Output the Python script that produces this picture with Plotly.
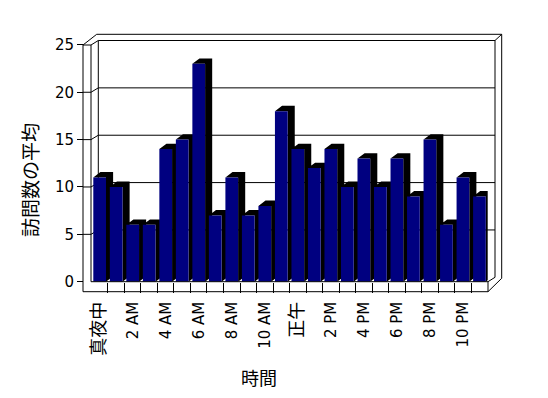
import plotly.graph_objects as go

# ---------------- data ----------------
hours = list(range(24))
visits = [11, 10, 6, 6, 14, 15, 23, 7, 11, 7, 8, 18, 14, 12, 14, 10, 13, 10, 13, 9, 15, 6, 11, 9]
label_positions = [0, 2, 4, 6, 8, 10, 12, 14, 16, 18, 20, 22]
label_texts = ["真夜中", "2 AM", "4 AM", "6 AM", "8 AM", "10 AM", "正午", "2 PM", "4 PM", "6 PM", "8 PM", "10 PM"]
y_ticks = [0, 5, 10, 15, 20, 25]

# ---------------- geometry (pixels, page coordinates) ----------------
W, H = 548, 398
def px(x):
    return x / W
def py(y):
    return 1 - y / H

X0, X1 = 91.4, 487.7          # plot area for categories -0.5 .. 23.5
Y0, Y1 = 281.7, 44.9          # front plane: value 0 .. 25
BW = 0.77                     # bar width (category units)
DX = 0.43                     # depth offset x (category units)
DY = 0.57                     # depth offset y (value units)
NAVY = "#000080"
FONT_LAT = "DejaVu Sans, Noto Sans CJK JP"
FONT_CJK = "Noto Sans CJK JP"

# tick texts: CJK labels slightly larger, as in the original
def fmt_label(t):
    if any(ord(c) > 0x2E80 for c in t):
        return '<span style="font-size:18px">' + t + '</span>'
    return t
tick_text = [fmt_label(t) for t in label_texts]

# black side + top faces of each bar (computed from data)
sx, sy = [], []
for h, v in zip(hours, visits):
    l, r = h - BW / 2, h + BW / 2
    sx += [l, l + DX, r + DX, r + DX, r, r, l, None]
    sy += [v, v + DY, v + DY, DY, 0, v, v, None]

fig = go.Figure()
fig.add_trace(go.Scatter(x=sx, y=sy, mode="lines", fill="toself", fillcolor="black",
                         line=dict(width=0, color="black"), hoverinfo="skip",
                         showlegend=False, xaxis="x", yaxis="y"))
fig.add_trace(go.Bar(x=hours, y=visits, width=BW, marker=dict(color=NAVY, line=dict(width=0)),
                     hoverinfo="skip", showlegend=False, xaxis="x2", yaxis="y2"))

# ---------------- frame shapes ----------------
shapes = []
def line(x0, y0, x1, y1, layer="below"):
    shapes.append(dict(type="line", xref="paper", yref="paper",
                       x0=px(x0), y0=py(y0), x1=px(x1), y1=py(y1),
                       line=dict(color="black", width=1), layer=layer))

# back wall (inner + outer rim)
BWL, BWR, BWT, BWB = 98.3, 495.0, 40.5, 277.3
line(BWL, BWT, BWR, BWT)
line(BWR, BWT, BWR, BWB)
line(BWL, BWT, BWL, BWB)
line(96.7, 34.3, 501.7, 34.3)
line(501.7, 34.3, 501.7, 278.3)
line(BWR, BWT, 501.7, 34.3)
# back-wall gridlines + side-wall segments
per = (BWB - BWT) / 25.0
perf = (Y0 - Y1) / 25.0
for t in y_ticks[1:-1]:
    yb = BWB - per * t
    yf = Y0 - perf * t
    line(BWL, yb, BWR, yb)
    line(83, yf, 91, yf)
    line(91, yf, BWL, yb)
# left wall slab front face
line(83, 45, 91, 45, "above")
line(83, 45, 83, 291.7, "above")
line(91, 45, 91, 281.7, "above")
line(83, 45, 96.7, 34.3, "above")
line(91, 45, BWL, BWT, "above")
# floor slab
line(83, 291.7, 488, 291.7, "above")
line(91, 281.7, 488, 281.7, "above")
line(488, 281.7, 488, 291.7, "above")
line(488, 291.7, 501.7, 278.3, "above")
line(488, 281.7, BWR, BWB, "above")

xdom = [px(X0), px(X1)]
ydom = [py(Y0), py(Y1)]

fig.update_layout(
    width=W, height=H, autosize=False,
    margin=dict(l=0, r=0, t=0, b=0, pad=0, autoexpand=False),
    paper_bgcolor="white", plot_bgcolor="rgba(0,0,0,0)",
    barmode="overlay",
    shapes=shapes,
    xaxis=dict(domain=xdom, range=[-0.5, 23.5], anchor="y", showgrid=False, zeroline=False,
               automargin=False,
               showline=False, tickmode="array", tickvals=label_positions, ticktext=tick_text,
               ticks="", tickangle=-90, ticklabelstandoff=16,
               tickfont=dict(family=FONT_LAT, size=15, color="black"),
               minor=dict(tickvals=[h + 0.5 for h in hours[:-1]], ticks="outside", ticklen=10,
                          tickcolor="black", tickwidth=1, showgrid=False)),
    yaxis=dict(domain=ydom, range=[0, 25], anchor="free", position=px(83), showgrid=False,
               automargin=False,
               zeroline=False, showline=False, tickmode="array", tickvals=y_ticks,
               ticks="outside", ticklen=6, tickcolor="black",
               tickfont=dict(family=FONT_LAT, size=15, color="black")),
    xaxis2=dict(overlaying="x", range=[-0.5, 23.5], visible=False, automargin=False),
    yaxis2=dict(overlaying="y", range=[0, 25], visible=False, automargin=False),
    annotations=[
        dict(text="訪問数の平均", xref="paper", yref="paper", x=px(30), y=py(180),
             textangle=-90, showarrow=False, xanchor="center", yanchor="middle",
             font=dict(family=FONT_CJK, size=19, color="black")),
        dict(text="時間", xref="paper", yref="paper", x=px(259), y=py(377),
             showarrow=False, xanchor="center", yanchor="middle",
             font=dict(family=FONT_CJK, size=18, color="black")),
    ],
)

fig.write_html("out.html", config={"displayModeBar": False, "staticPlot": True},
               post_script="document.body.style.margin='0';document.body.style.padding='0';"
                           "document.documentElement.style.overflow='hidden';")
